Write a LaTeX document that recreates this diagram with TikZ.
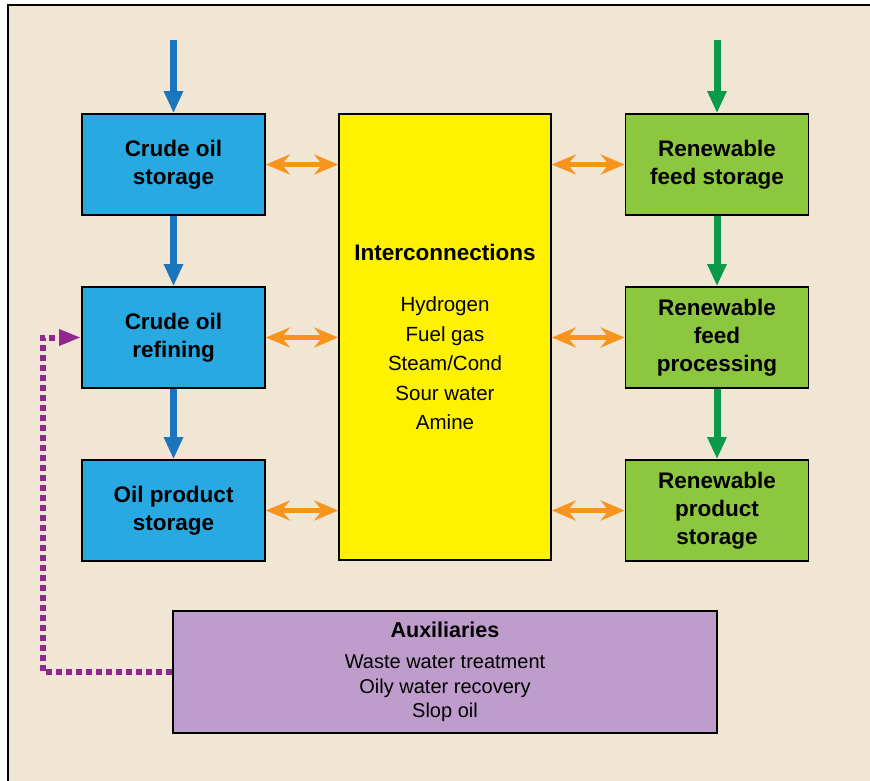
\documentclass[tikz,border=0pt]{standalone}
\usepackage{fontspec}
\setmainfont{Liberation Sans}
\usetikzlibrary{arrows.meta}
\definecolor{bgc}{HTML}{F1E6D3}
\definecolor{boxblue}{HTML}{29A9E1}
\definecolor{arrblue}{HTML}{1B75BC}
\definecolor{boxyellow}{HTML}{FFF200}
\definecolor{boxgreen}{HTML}{8DC63F}
\definecolor{arrgreen}{HTML}{0B9A4B}
\definecolor{arrorange}{HTML}{F7941D}
\definecolor{boxpurple}{HTML}{BE9CCB}
\definecolor{arrpurple}{HTML}{92278F}
\tikzset{
  unitbox/.style={draw=black, line width=1.6pt, minimum width=183pt, minimum height=101pt,
    inner sep=0pt, align=center, font=\fontsize{22.5}{28}\selectfont\bfseries},
  bluebox/.style={unitbox, fill=boxblue},
  greenbox/.style={unitbox, fill=boxgreen},
  flowblue/.style={draw=arrblue, line width=7pt, -{Triangle[length=22pt,width=18pt]}},
  flowgreen/.style={draw=arrgreen, line width=7pt, -{Triangle[length=22pt,width=18pt]}},
  exch/.style={draw=arrorange, line width=5pt, {Stealth[length=24pt,width=20pt,inset=8pt]}-{Stealth[length=24pt,width=20pt,inset=8pt]}},
  auxlink/.style={draw=arrpurple, line width=6pt, dash pattern=on 6pt off 4pt, -{Triangle[length=22pt,width=15pt]}}
}
\begin{document}
\begin{tikzpicture}[x=1pt,y=-1pt]
\useasboundingbox (0,0) rectangle (870,781);
\fill[bgc] (8,5) rectangle (885,795);
\draw[line width=2pt, black] (8,795) -- (8,5) -- (885,5);

% left column
\node[bluebox] (cos) at (173.5,164.5) {Crude oil\\storage};
\node[bluebox] (cor) at (173.5,337.5) {Crude oil\\refining};
\node[bluebox] (ops) at (173.5,510.5) {Oil product\\storage};

% middle
\node[draw=black, line width=1.6pt, fill=boxyellow, minimum width=212pt, minimum height=446pt,
  inner sep=0pt, align=center, font=\fontsize{20.5}{29.5}\selectfont] (inter) at (445,337)
  {{\fontsize{22.5}{29.5}\selectfont\bfseries Interconnections}\\[22pt]
   Hydrogen\\Fuel gas\\Steam/Cond\\Sour water\\Amine};

% right column
\node[greenbox] (rfs) at (717,164.5) {Renewable\\feed storage};
\node[greenbox] (rfp) at (717,337.5) {Renewable\\feed\\processing};
\node[greenbox] (rps) at (717,510.5) {Renewable\\product\\storage};

% auxiliaries
\node[draw=black, line width=1.6pt, fill=boxpurple, minimum width=544pt, minimum height=122pt,
  inner sep=0pt, align=center, font=\fontsize{20}{24.5}\selectfont] (aux) at (445,672)
  {{\fontsize{21.5}{24.5}\selectfont\bfseries Auxiliaries}\\[7pt]
   Waste water treatment\\Oily water recovery\\Slop oil};

% feed arrows
\coordinate (bin) at (173.5,40);
\coordinate (gin) at (717,40);
\draw[flowblue] (bin) -- (cos.north);
\draw[flowblue] (cos.south) -- (cor.north);
\draw[flowblue] (cor.south) -- (ops.north);
\draw[flowgreen] (gin) -- (rfs.north);
\draw[flowgreen] (rfs.south) -- (rfp.north);
\draw[flowgreen] (rfp.south) -- (rps.north);

% exchange arrows
\draw[exch] (cos.east) -- (cos.east -| inter.west);
\draw[exch] (cor.east) -- (cor.east -| inter.west);
\draw[exch] (ops.east) -- (ops.east -| inter.west);
\draw[exch] (rfs.west -| inter.east) -- (rfs.west);
\draw[exch] (rfp.west -| inter.east) -- (rfp.west);
\draw[exch] (rps.west -| inter.east) -- (rps.west);

% auxiliaries link
\coordinate (bend) at (43,337.5);
\draw[auxlink] (aux.west) -| (bend) -- (cor.west);
\end{tikzpicture}
\end{document}
